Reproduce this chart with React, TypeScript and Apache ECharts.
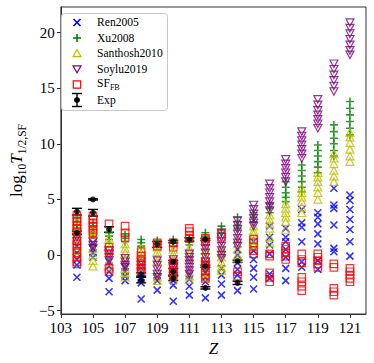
import React, { useEffect, useRef } from "react";
import * as echarts from "echarts";

const FONT = "'Liberation Serif', 'DejaVu Serif', serif";

// Proton number Z of each column
const zValues = [104, 105, 106, 107, 108, 109, 110, 111, 112, 113, 114, 115, 116, 117, 118, 119, 120, 121];
const xTicks = [103, 105, 107, 109, 111, 113, 115, 117, 119, 121];
const yTicks = [-5, 0, 5, 10, 15, 20];
const legendNames = ["Ren2005", "Xu2008", "Santhosh2010", "Soylu2019", "SF_FB", "Exp"];

// log10 T1/2,SF per Z (one row per Z in zValues)
const ren2005: number[][] = [
  [0.8, 0.2, -0.4, -0.9, -2.0],
  [1.1, 0.6, 0.2, -0.2],
  [-0.6, -1.0, -1.5, -2.1, -3.3],
  [-1.1, -1.5, -1.9, -2.3],
  [-2.1, -2.5, -3.95],
  [-1.9, -2.3, -3.15],
  [-2.3, -2.7, -4.15],
  [-1.8, -2.2, -2.8, -3.6],
  [-1.5, -2.0, -2.4, -3.85],
  [-1.2, -1.8, -2.6, -3.6],
  [0.5, 0.0, -0.7, -1.3, -1.8, -3.2],
  [1.2, 0.4, -0.4, -1.2, -2.0, -3.05],
  [2.6, 1.6, 0.9, 0.1, -1.7, -2.1],
  [2.4, 1.6, 1.2, 0.5, -0.2, -1.2, -2.3],
  [4.1, 2.9, 2.5, 1.2, -0.6, -1.1],
  [3.8, 3.4, 2.8, 1.9, 1.0, -0.5, -1.3],
  [6.0, 4.5, 4.2, 2.7, 0.6, 0.3],
  [5.4, 4.9, 4.1, 3.2, 2.3, 1.2, -0.1],
];

const xu2008: number[][] = [
  [3.4, 3.0, 2.7, 2.3],
  [2.9, 2.5, 2.1, 1.8],
  [2.0, 1.7, 1.4],
  [1.8, 1.5, 1.2],
  [1.4, 1.1, 0.8],
  [1.3, 1.0],
  [1.4, 1.1, 0.8],
  [1.5, 1.2, 0.9],
  [2.0, 1.7, 1.4],
  [2.6, 2.3, 2.0],
  [3.4, 3.0, 2.7, 2.4],
  [3.8, 3.4, 3.0],
  [4.6, 4.2, 3.8],
  [6.6, 6.1, 5.6, 5.2, 4.8],
  [8.1, 7.6, 7.1, 6.6, 6.1, 5.7],
  [9.9, 9.4, 8.9, 8.4, 7.9, 7.4],
  [11.7, 11.1, 10.5, 10.0, 9.4, 8.9],
  [13.8, 13.2, 12.6, 12.0, 11.4, 10.8],
];

const santhosh2010: number[][] = [
  [3.0, 2.6, 1.9, 1.4, 0.9, 0.4],
  [2.2, 1.8, 1.4, 0.6, 0.0, -0.5, -1.0],
  [1.5, 1.1, 0.7, 0.2, -0.6, -1.0],
  [1.0, 0.6, 0.2, -0.3, -1.2, -1.6, -2.0],
  [0.6, 0.2, -0.2, -0.6, -1.0],
  [0.7, 0.3, -0.1, -0.5, -1.5, -2.0, -2.3],
  [0.5, 0.1, -0.3, -1.8, -2.2],
  [0.6, 0.2, -0.3, -1.5, -1.9, -2.2],
  [0.8, 0.4, -0.2, -1.6, -2.0],
  [0.6, 0.2, -0.2, -0.7, -1.1, -1.4],
  [1.4, 1.0, 0.5, 0.0, -0.4],
  [2.6, 2.2, 1.9, 1.3, 0.9],
  [3.6, 3.2, 2.8, 2.4, 1.6, 1.1],
  [4.6, 4.2, 3.8, 3.4, 3.0, 2.3],
  [6.0, 5.6, 5.2, 4.8, 4.3, 3.8],
  [7.4, 7.0, 6.6, 6.1, 5.6, 5.0],
  [9.1, 8.7, 8.2, 7.6, 7.1, 6.6],
  [11.0, 10.6, 10.1, 9.5, 8.9, 8.4],
];

const soylu2019: number[][] = [
  [1.6, 1.2],
  [1.2, 0.9, 0.6],
  [0.4, 0.1, -0.2, -0.5],
  [-0.3, -0.6, -0.9, -1.1],
  [-0.6, -0.9, -1.2, -1.5],
  [-0.5, -0.9, -1.3, -1.7, -2.0],
  [-0.4, -0.8, -1.2, -1.6, -1.9],
  [0.1, -0.2, -0.5, -0.8, -1.1, -1.4, -1.7],
  [1.0, 0.6, 0.2, -0.2, -0.6, -0.9, -1.3],
  [2.0, 1.6, 1.2, 0.8, 0.4, 0.0, -0.3],
  [3.1, 2.7, 2.3, 1.9, 1.5, 1.1, 0.8],
  [4.5, 4.1, 3.7, 3.3, 2.9, 2.6],
  [6.4, 6.0, 5.6, 5.2, 4.8, 4.4, 4.0],
  [8.6, 8.2, 7.8, 7.4, 7.0, 6.6],
  [11.1, 10.7, 10.3, 9.9, 9.5, 9.1, 8.7],
  [14.0, 13.5, 13.0, 12.6, 12.2, 11.8, 11.4],
  [17.2, 16.7, 16.2, 15.7, 15.2, 14.7],
  [20.9, 20.4, 19.9, 19.4, 18.9, 18.4, 18.0],
];

const sfFB: number[][] = [
  [3.6, 3.3, 3.0, 2.7, 2.4, 2.1, 1.3, 1.0, 0.6, 0.2, -0.2, -0.6, -0.8],
  [3.5, 3.2, 2.9, 2.6, 2.3, 2.0],
  [2.8, 0.7, 0.4, -1.2, -1.5],
  [2.6, 2.0, 1.6],
  [0.3, -0.1, -0.5, -0.9, -1.3, -1.5],
  [1.1, 0.8],
  [1.1, 0.7, -0.7, -1.1, -1.5, -1.9],
  [2.4, 2.1, 1.8, 1.5],
  [1.5, 1.2, -0.6, -1.0, -1.4, -1.8, -2.1],
  [1.9, 1.6],
  [-1.5, -1.9],
  [1.4, 1.1, 0.4, 0.1],
  [0.1, -0.1, -1.6, -2.0, -2.4],
  [0.8, 0.5, 0.2, -0.1, -0.4],
  [0.1, -0.4, -0.7, -2.0, -2.4, -2.8, -3.2],
  [0.1, -0.2, -0.5, -0.8, -1.1],
  [-0.8, -1.1, -3.0, -3.3, -3.6],
  [-1.2, -1.5, -1.8, -2.1, -2.4],
];

// Experimental values with error bars
const expZ = [104, 104, 105, 105, 106, 108, 108, 109, 110, 110, 110, 110, 111, 112, 112, 112, 114, 114];
const expValue = [3.9, 2.0, 5.0, 3.8, 2.3, -1.75, -2.25, 0.95, 1.2, -0.6, -1.5, -2.1, 1.4, 1.4, -1.0, -2.95, -0.55, -2.5];
const expError = [0.3, 0.15, 0.05, 0.3, 0.25, 0.15, 0.25, 0.27, 0.1, 0.1, 0.3, 0.2, 0.15, 0.1, 0.1, 0.1, 0.1, 0.15];

const pairs = (rows: number[][]) => rows.flatMap((vals, i) => vals.map((v) => [zValues[i], v]));
const minus = (v: number) => String(v).replace("-", "\u2212");

const BLUE = "#0000ff";
const GREEN = "#008000";
const OLIVE = "#bfbf00";
const PURPLE = "#800080";
const RED = "#ff0000";

function legendGraphics() {
  const ix = 77; // icon centre
  const tx = 97; // text start
  const y0 = 22.5;
  const dy = 15.5;
  const els: any[] = [
    {
      type: "rect",
      z: 10,
      shape: { x: 61.5, y: 13.5, width: 106, height: 97, r: 3 },
      style: { fill: "rgba(255,255,255,0.8)", stroke: "#c8c8c8", lineWidth: 1 },
    },
  ];
  const ln = (x1: number, y1: number, x2: number, y2: number, c: string, w: number) => ({
    type: "line",
    z: 11,
    shape: { x1, y1, x2, y2 },
    style: { stroke: c, lineWidth: w },
  });
  legendNames.forEach((name, i) => {
    const y = y0 + i * dy;
    if (name === "Ren2005") {
      els.push(ln(ix - 3.5, y - 3.5, ix + 3.5, y + 3.5, BLUE, 1.6), ln(ix + 3.5, y - 3.5, ix - 3.5, y + 3.5, BLUE, 1.6));
    } else if (name === "Xu2008") {
      els.push(ln(ix, y - 4, ix, y + 4, GREEN, 1.6), ln(ix - 4, y, ix + 4, y, GREEN, 1.6));
    } else if (name === "Santhosh2010") {
      els.push({
        type: "polygon",
        z: 11,
        shape: { points: [[ix, y - 3.8], [ix + 4, y + 3.2], [ix - 4, y + 3.2]] },
        style: { fill: "none", stroke: OLIVE, lineWidth: 1.2 },
      });
    } else if (name === "Soylu2019") {
      els.push({
        type: "polygon",
        z: 11,
        shape: { points: [[ix - 4, y - 3.2], [ix + 4, y - 3.2], [ix, y + 3.8]] },
        style: { fill: "none", stroke: PURPLE, lineWidth: 1.2 },
      });
    } else if (name === "SF_FB") {
      els.push({
        type: "rect",
        z: 11,
        shape: { x: ix - 3.7, y: y - 3.7, width: 7.4, height: 7.4 },
        style: { fill: "none", stroke: RED, lineWidth: 1.2 },
      });
    } else {
      els.push(
        ln(ix, y - 6.5, ix, y + 6.5, "#000", 1.4),
        ln(ix - 5, y - 6.5, ix + 5, y - 6.5, "#000", 1.4),
        ln(ix - 5, y + 6.5, ix + 5, y + 6.5, "#000", 1.4),
        { type: "circle", z: 11, shape: { cx: ix, cy: y, r: 3 }, style: { fill: "#000" } }
      );
    }
    els.push({
      type: "text",
      z: 11,
      x: tx,
      y,
      style:
        name === "SF_FB"
          ? {
              text: "{b|SF}{s|FB}",
              verticalAlign: "middle",
              fill: "#000",
              rich: {
                b: { fontFamily: FONT, fontSize: 11.6, verticalAlign: "bottom", padding: [0, 0, 2, 0], fill: "#000" },
                s: { fontFamily: FONT, fontSize: 8, verticalAlign: "bottom", fill: "#000" },
              },
            }
          : { text: name, fontFamily: FONT, fontSize: 11.6, verticalAlign: "middle", fill: "#000" },
    });
  });
  return els;
}

export default function App() {
  const ref = useRef<HTMLDivElement>(null);
  useEffect(() => {
    if (!ref.current) return;
    const chart = echarts.init(ref.current, null, { renderer: "svg" });
    const expData = expZ.map((z, i) => [z, expValue[i], expError[i]]);
    const axisText = { fontFamily: FONT, fontSize: 15, color: "#000" };
    const hollow = (c: string, w = 1.2) => ({ color: "none", borderColor: c, borderWidth: w });
    const capStyle = { stroke: "#000", lineWidth: 1.4 };

    chart.setOption({
      animation: false,
      backgroundColor: "#fff",
      grid: { left: 56, right: 8, top: 7, bottom: 49, show: true, borderColor: "#333", borderWidth: 1 },
      graphic: legendGraphics(),
      xAxis: {
        type: "value",
        min: 103,
        max: 122,
        name: "Z",
        nameLocation: "middle",
        nameGap: 23,
        nameTextStyle: { fontFamily: FONT, fontSize: 17, fontStyle: "italic", color: "#000" },
        axisLine: { onZero: false, lineStyle: { color: "#333", width: 1 } },
        axisTick: { show: true, length: 4, lineStyle: { color: "#333" }, customValues: xTicks },
        axisLabel: { ...axisText, margin: 6, customValues: xTicks },
        splitLine: { show: false },
      },
      yAxis: {
        type: "value",
        min: -5.3,
        max: 22.3,
        name: "{r|log}{s|10}{i|T}{s|1/2,SF}",
        nameLocation: "middle",
        nameRotate: 90,
        nameGap: 31,
        nameTextStyle: {
          color: "#000",
          rich: {
            r: { fontFamily: FONT, fontSize: 17, verticalAlign: "bottom", padding: [0, 0, 3, 0] },
            i: { fontFamily: FONT, fontSize: 17, fontStyle: "italic", verticalAlign: "bottom", padding: [0, 0, 3, 0] },
            s: { fontFamily: FONT, fontSize: 11.5, verticalAlign: "bottom" },
          },
        },
        axisLine: { show: true, lineStyle: { color: "#333", width: 1 } },
        axisTick: { show: true, length: 4, lineStyle: { color: "#333" }, customValues: yTicks },
        axisLabel: { ...axisText, margin: 6, customValues: yTicks, formatter: (v: number) => minus(v) },
        splitLine: { show: false },
      },
      series: [
        {
          name: "Ren2005",
          type: "scatter",
          symbol: "path://M0,0L10,10M10,0L0,10",
          symbolSize: 7,
          itemStyle: hollow(BLUE, 1.6),
          data: pairs(ren2005),
        },
        {
          name: "Xu2008",
          type: "scatter",
          symbol: "path://M5,0L5,10M0,5L10,5",
          symbolSize: 8,
          itemStyle: hollow(GREEN, 1.6),
          data: pairs(xu2008),
        },
        {
          name: "Santhosh2010",
          type: "scatter",
          symbol: "triangle",
          symbolSize: [8, 7.5],
          itemStyle: hollow(OLIVE, 1.2),
          data: pairs(santhosh2010),
        },
        {
          name: "Soylu2019",
          type: "scatter",
          symbol: "triangle",
          symbolRotate: 180,
          symbolSize: [8, 7.5],
          itemStyle: hollow(PURPLE, 1.2),
          data: pairs(soylu2019),
        },
        {
          name: "SF_FB",
          type: "scatter",
          symbol: "rect",
          symbolSize: 7.5,
          itemStyle: hollow(RED, 1.2),
          data: pairs(sfFB),
        },
        {
          name: "ExpErr",
          type: "custom",
          encode: { x: 0, y: 1 },
          data: expData,
          renderItem: (_p: any, api: any) => {
            const z = api.value(0);
            const v = api.value(1);
            const e = api.value(2);
            const top = api.coord([z, v + e]);
            const bot = api.coord([z, v - e]);
            const hw = 5;
            return {
              type: "group",
              children: [
                { type: "line", shape: { x1: top[0], y1: top[1], x2: bot[0], y2: bot[1] }, style: capStyle },
                { type: "line", shape: { x1: top[0] - hw, y1: top[1], x2: top[0] + hw, y2: top[1] }, style: capStyle },
                { type: "line", shape: { x1: bot[0] - hw, y1: bot[1], x2: bot[0] + hw, y2: bot[1] }, style: capStyle },
              ],
            };
          },
        },
        {
          name: "Exp",
          type: "scatter",
          symbol: "circle",
          symbolSize: 6,
          itemStyle: { color: "#000" },
          data: expData.map((d) => [d[0], d[1]]),
        },
      ],
    });
    return () => chart.dispose();
  }, []);
  return <div ref={ref} style={{ position: "fixed", left: 0, top: 0, width: 374, height: 363 }} />;
}
